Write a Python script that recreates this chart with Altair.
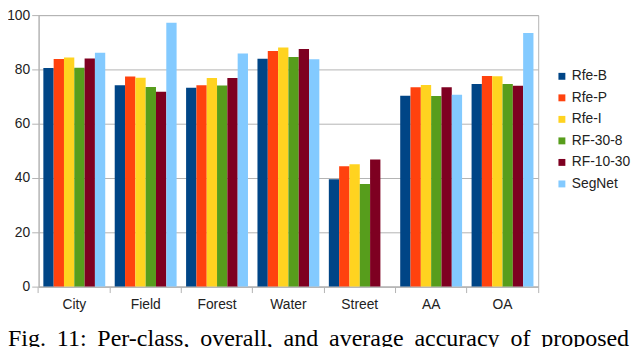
import altair as alt
import pandas as pd

categories = ["City", "Field", "Forest", "Water", "Street", "AA", "OA"]
series = ["Rfe-B", "Rfe-P", "Rfe-I", "RF-30-8", "RF-10-30", "SegNet"]
colors = ["#004586", "#ff420e", "#ffd320", "#579d1c", "#7e0021", "#83caff"]

rfe_b = [80.5, 74.2, 73.2, 83.9, 39.5, 70.3, 74.6]
rfe_p = [83.8, 77.4, 74.2, 86.8, 44.3, 73.4, 77.6]
rfe_i = [84.4, 76.9, 76.8, 88.1, 45.1, 74.3, 77.5]
rf_30_8 = [80.6, 73.5, 74.1, 84.6, 37.8, 70.2, 74.6]
rf_10_30 = [84.0, 71.8, 76.8, 87.5, 46.8, 73.4, 74.0]
segnet = [86.1, 97.2, 85.9, 83.7, 0.0, 70.7, 93.4]

y_ticks = [0, 20, 40, 60, 80, 100]
caption_words = ["Fig.", "11:", "Per-class,", "overall,", "and", "average", "accuracy", "of", "proposed"]

rows = []
for name, vals in zip(series, [rfe_b, rfe_p, rfe_i, rf_30_8, rf_10_30, segnet]):
    for cat, v in zip(categories, vals):
        rows.append({"category": cat, "series": name, "value": v})
df = pd.DataFrame(rows)

GRAY = "#b3b3b3"
TXT = "#222222"

bars = alt.Chart(df).mark_bar().encode(
    x=alt.X(
        "category:N",
        sort=categories,
        scale=alt.Scale(paddingInner=0, paddingOuter=0),
        axis=alt.Axis(
            title=None, labelAngle=0, bandPosition=1, tickExtra=True,
            tickSize=6, labelPadding=5, domainColor=GRAY, tickColor=GRAY,
            labelFont="Liberation Sans", labelFontSize=14, labelColor=TXT,
            grid=False,
        ),
    ),
    xOffset=alt.XOffset("series:N", sort=series,
                        scale=alt.Scale(paddingInner=0, paddingOuter=0.46)),
    y=alt.Y(
        "value:Q",
        scale=alt.Scale(domain=[0, 100], nice=False),
        axis=alt.Axis(
            values=y_ticks, title=None, grid=True, gridColor=GRAY,
            tickSize=7, labelPadding=2, domainColor=GRAY, tickColor=GRAY,
            labelFont="Liberation Sans", labelFontSize=14, labelColor=TXT,
        ),
    ),
    color=alt.Color(
        "series:N",
        sort=series,
        scale=alt.Scale(domain=series, range=colors),
        legend=alt.Legend(
            title=None, orient="none", legendX=523, legendY=55,
            symbolType="square", symbolSize=49, symbolStrokeWidth=0,
            labelFont="Liberation Sans", labelFontSize=14, labelColor=TXT,
            rowPadding=7.8, labelOffset=3, padding=0,
        ),
    ),
)

cap_df = pd.DataFrame({"t": [" \u2009".join(caption_words)]})
cap = alt.Chart(cap_df).mark_text(
    align="left", baseline="alphabetic", font="Liberation Serif",
    fontSize=24.3, color="#000000",
).encode(text="t:N", x=alt.value(-31), y=alt.value(335))

chart = alt.layer(bars, cap).properties(
    width=506, height=275,
    autosize=alt.AutoSizeParams(type="none"),
    padding={"left": 31, "top": 5, "right": 95, "bottom": 62},
).configure_view(stroke=GRAY, strokeWidth=1)

chart.save("out.html", embed_options={"renderer": "svg", "actions": False})
